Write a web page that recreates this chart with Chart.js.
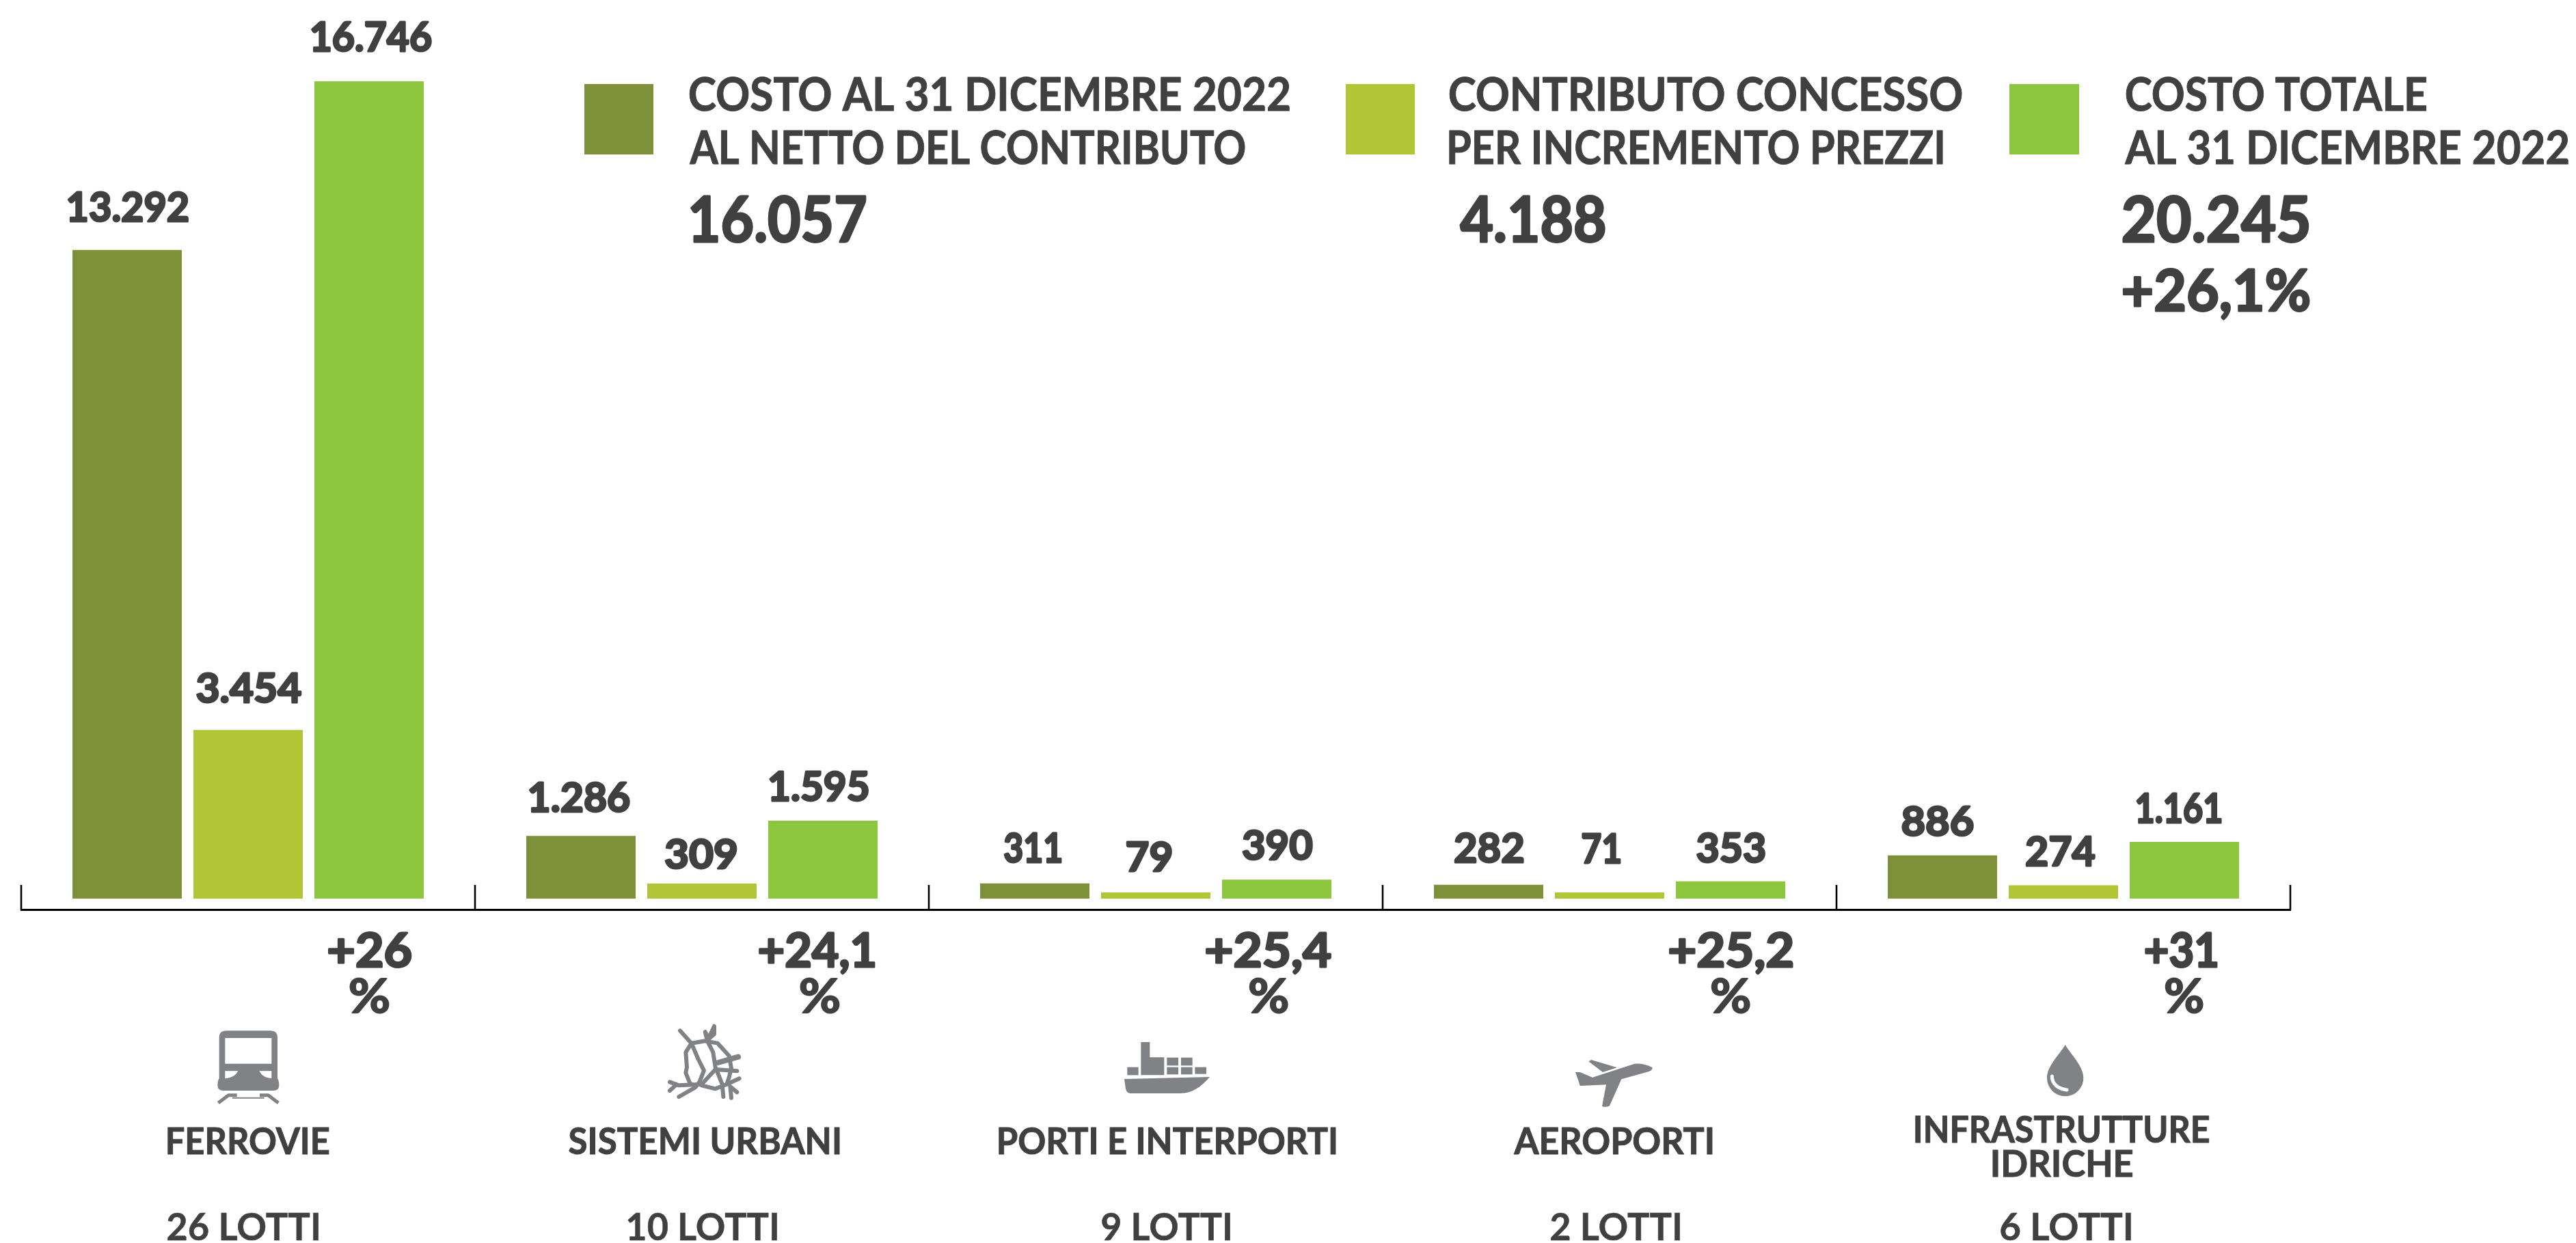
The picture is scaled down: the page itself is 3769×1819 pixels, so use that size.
<!DOCTYPE html>
<html><head><meta charset="utf-8">
<style>html,body{margin:0;padding:0;background:#fff}canvas{display:block}</style>
<script src="https://cdn.jsdelivr.net/npm/chart.js@4"></script>
</head><body><canvas id="c" width="3769" height="1819"></canvas>
<script>
const categories = ["FERROVIE","SISTEMI URBANI","PORTI E INTERPORTI","AEROPORTI","INFRASTRUTTURE IDRICHE"];
const costoNetto = [13292,1286,311,282,886];
const contributo = [3454,309,79,71,274];
const costoTotale = [16746,1595,390,353,1161];
const variazioni = ["+26","+24,1","+25,4","+25,2","+31"];
const lotti = ["26 LOTTI","10 LOTTI","9 LOTTI","2 LOTTI","6 LOTTI"];
const seriesNames = ["COSTO AL 31 DICEMBRE 2022 AL NETTO DEL CONTRIBUTO","CONTRIBUTO CONCESSO PER INCREMENTO PREZZI","COSTO TOTALE AL 31 DICEMBRE 2022"];

const INK="#404040", GREY="#808285";
const colors=["#7E9039","#B1C634","#8CC63F"];
const FONT="Lato";
const CAP=0.7165;
const fmt=v=>String(v).replace(/\B(?=(\d{3})+$)/g,".");

// text: fitted to a horizontal extent, anchored on a baseline, optionally emboldened
function fit(ctx,t,x0,x1,base,cap,bold){
  const lw=bold||0;
  ctx.save();
  ctx.font=`700 ${(cap-lw)/CAP}px ${FONT}`;
  ctx.fillStyle=INK; ctx.strokeStyle=INK; ctx.lineJoin="round"; ctx.lineWidth=lw;
  ctx.textAlign="left"; ctx.textBaseline="alphabetic";
  const m=ctx.measureText(t);
  const w=m.actualBoundingBoxRight+m.actualBoundingBoxLeft;
  const s=(x1-x0-lw)/w;
  ctx.translate(x0+lw/2+m.actualBoundingBoxLeft*s,base-lw/2);
  ctx.scale(s,1);
  if(lw) ctx.strokeText(t,0,0);
  ctx.fillText(t,0,0);
  ctx.restore();
}
// per-bar label placement: [dx from bar centre, lift above bar top, text width]
const labelPlace=[
 [[1.5,40,179],[-2.5,34,149],[-3,29,87],[1,31,103],[-7,27,106]],
 [[1,39,156],[-2,20,107],[-10,30,68],[-12,42,59],[-4,27,103]],
 [[3,42,178],[-6,28,147],[1,28,105],[0,26,102],[-8,27,127]]
];
const varPlace=[[480,603,511,570],[1110,1281,1170,1229],[1764,1948,1827,1885],[2442,2624,2503,2561],[3138,3245,3167,3224]];
const catPlace=[[245,482],[832,1229],[1461,1955],[2214,2506],null];
const lotPlace=[[245,466],[918,1137],[1612,1800],[2269,2458],[2927,3118]];

function poly(ctx,p){ctx.beginPath();p.forEach((q,i)=>i?ctx.lineTo(q[0],q[1]):ctx.moveTo(q[0],q[1]));ctx.closePath();ctx.fill();}
function strokeLine(ctx,p){ctx.beginPath();p.forEach((q,i)=>i?ctx.lineTo(q[0],q[1]):ctx.moveTo(q[0],q[1]));ctx.stroke();}
function icon(ctx,ox,oy,fn){ctx.save();ctx.translate(ox,oy);ctx.scale(1/3,1/3);ctx.fillStyle=GREY;ctx.strokeStyle=GREY;ctx.lineCap="round";ctx.lineJoin="round";fn(ctx);ctx.restore();}

function train(c){
  c.beginPath();
  c.moveTo(62,265);c.lineTo(62,85);c.quadraticCurveTo(62,55,92,55);c.lineTo(288,55);c.quadraticCurveTo(318,55,318,85);c.lineTo(318,265);
  c.quadraticCurveTo(325,275,325,295);c.quadraticCurveTo(325,318,300,318);c.lineTo(80,318);c.quadraticCurveTo(55,318,55,295);c.quadraticCurveTo(55,275,62,265);c.closePath();c.fill();
  c.fillStyle="#fff";
  c.fillRect(88,87,204,113);
  c.beginPath();c.moveTo(88,232);c.lineTo(145,232);c.quadraticCurveTo(130,262,88,265);c.closePath();c.fill();
  c.beginPath();c.moveTo(292,232);c.lineTo(238,232);c.quadraticCurveTo(252,262,292,265);c.closePath();c.fill();
  c.strokeStyle=GREY;c.lineCap="butt";c.lineWidth=15;
  strokeLine(c,[[58,372],[103,338],[140,338]]);
  strokeLine(c,[[322,372],[277,338],[240,338]]);
  c.lineWidth=6;strokeLine(c,[[120,350],[260,350]]);
}
function roads(c){
  c.lineWidth=18;
  [[[105,55],[155,110],[130,150],[135,215],[130,240],[148,285],[175,300]],
   [[155,110],[215,100],[270,110],[320,165],[330,220],[320,260],[310,290]],
   [[155,110],[185,180],[210,230],[190,280],[170,305],[100,345]],
   [[225,100],[255,35],[255,70],[232,90],[215,60],[225,100],[250,150],[260,215],[290,290],[295,345]],
   [[260,225],[355,232]],
   [[60,280],[100,295],[200,290],[260,225]],
   [[60,318],[85,295]],
   [[200,295],[260,310],[310,290],[365,265]],
   [[330,350],[325,300],[355,325]]].forEach(p=>strokeLine(c,p));
  c.lineWidth=24;strokeLine(c,[[272,195],[360,170]]);
}
function ship(c){
  poly(c,[[118,30],[157,30],[157,97],[220,97],[220,175],[118,175]]);
  [[58,140,49,35],[232,98,50,35],[294,98,50,35],[232,140,50,32],[294,140,50,32],[355,140,50,30]].forEach(r=>c.fillRect(r[0],r[1],r[2],r[3]));
  c.beginPath();c.moveTo(45,192);c.lineTo(420,183);c.bezierCurveTo(380,230,340,255,290,255);c.lineTo(72,255);c.quadraticCurveTo(55,255,51,235);c.closePath();c.fill();
}
function plane(c){
  c.beginPath();c.moveTo(30,72);c.lineTo(50,72);c.lineTo(105,95);c.lineTo(290,35);c.quadraticCurveTo(335,33,368,52);c.quadraticCurveTo(368,65,350,70);c.lineTo(232,103);c.lineTo(180,220);c.quadraticCurveTo(165,228,147,222);c.lineTo(165,127);c.lineTo(50,132);c.lineTo(45,115);c.closePath();c.fill();
  poly(c,[[88,25],[100,18],[213,52],[150,72]]);
}
function drop(c){
  c.beginPath();c.moveTo(125,12);c.bezierCurveTo(150,55,205,105,205,158);c.arc(125,158,80,0,Math.PI);c.bezierCurveTo(45,105,100,55,125,12);c.closePath();c.fill();
  c.strokeStyle="#fff";c.lineWidth=15;c.beginPath();c.moveTo(67,150);c.bezierCurveTo(67,185,95,205,132,210);c.stroke();
}

const overlay={id:"overlay",
 afterDraw(chart){
  const ctx=chart.ctx,x=chart.scales.x;
  // category boundary ticks, standing up from the axis
  ctx.save();ctx.strokeStyle="#000";ctx.lineWidth=2.6;
  const b=chart.chartArea.bottom+1;
  categories.concat([""]).forEach((_,i)=>{const px=x.getPixelForValue(i-0.5);ctx.beginPath();ctx.moveTo(px,1295);ctx.lineTo(px,b);ctx.stroke();});
  ctx.restore();
  // bar values
  [costoNetto,contributo,costoTotale].forEach((arr,ds)=>{
    const meta=chart.getDatasetMeta(ds);
    arr.forEach((v,i)=>{
      const el=meta.data[i],pl=labelPlace[ds][i],c=el.x+pl[0],w=pl[2];
      fit(ctx,fmt(v),c-w/2,c+w/2,el.y-pl[1],46,3);
    });
  });
  // variation labels
  variazioni.forEach((t,i)=>{const p=varPlace[i];fit(ctx,t,p[0],p[1],1416,52,3);fit(ctx,"%",p[2],p[3],1483,52,2);});
  // categories
  categories.forEach((t,i)=>{
    if(catPlace[i]) fit(ctx,t,catPlace[i][0],catPlace[i][1],1689,39,1);
  });
  fit(ctx,"INFRASTRUTTURE",2802,3233,1672,40,1);
  fit(ctx,"IDRICHE",2915,3121,1722,40,1);
  lotti.forEach((t,i)=>fit(ctx,t,lotPlace[i][0],lotPlace[i][1],1815,40,0.5));
  // legend
  ctx.fillStyle=colors[0];ctx.fillRect(855,123,101,103);
  ctx.fillStyle=colors[1];ctx.fillRect(1969,123,101,103);
  ctx.fillStyle=colors[2];ctx.fillRect(2940,123,102,103);
  fit(ctx,"COSTO AL 31 DICEMBRE 2022",1008,1887,162,49,1);
  fit(ctx,"AL NETTO DEL CONTRIBUTO",1008,1822,240,49,1);
  fit(ctx,"CONTRIBUTO CONCESSO",2120,2871,162,49,1);
  fit(ctx,"PER INCREMENTO PREZZI",2120,2843,240,49,1);
  fit(ctx,"COSTO TOTALE",3110,3550,162,49,1);
  fit(ctx,"AL 31 DICEMBRE 2022",3108,3758,240,49,1);
  fit(ctx,"16.057",1010,1268,355,69,3);
  fit(ctx,"4.188",2135,2349,355,69,3);
  fit(ctx,"20.245",3105,3379,355,69,3);
  fit(ctx,"+26,1%",3105,3380,456,64,3);
  // pictograms
  icon(ctx,300,1490,train);
  icon(ctx,960,1490,roads);
  icon(ctx,1630,1515,ship);
  icon(ctx,2295,1545,plane);
  icon(ctx,2980,1525,drop);
 }};

new Chart(document.getElementById("c"),{
 type:"bar",
 data:{labels:categories,datasets:[
  {label:seriesNames[0],data:costoNetto,backgroundColor:colors[0]},
  {label:seriesNames[1],data:contributo,backgroundColor:colors[1],minBarLength:9},
  {label:seriesNames[2],data:costoTotale,backgroundColor:colors[2]}
 ]},
 options:{responsive:false,animation:false,
  layout:{padding:{left:31,right:418,top:0,bottom:488}},
  datasets:{bar:{categoryPercentage:531/664,barPercentage:160/177,borderWidth:0}},
  plugins:{legend:{display:false},title:{display:false},tooltip:{enabled:false}},
  scales:{
   x:{offset:true,ticks:{display:false},grid:{display:true,drawOnChartArea:false,drawTicks:false},border:{display:true,color:"#000",width:3}},
   y:{display:false,min:-224,max:18412}
  }},
 plugins:[overlay]
});
</script></body></html>
